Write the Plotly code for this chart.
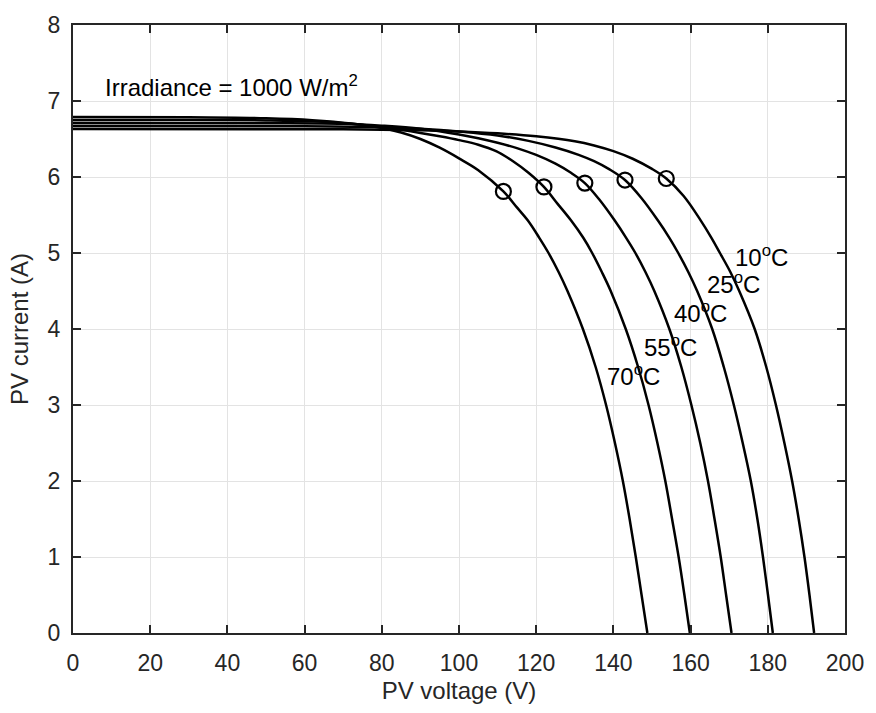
import plotly.graph_objects as go

# I-V characteristics of the PV array at 1000 W/m2 for several cell temperatures
temps = ["10", "25", "40", "55", "70"]

v_10 = [0, 70, 90, 100, 110, 120, 130, 135, 140, 145, 150, 153.7, 158.2, 162.6, 165.4, 167.6,
        170.3, 172.6, 176.6, 179.6, 182.1, 184.3, 186.3, 188.0, 189.5, 190.8, 192.0]
i_10 = [6.63, 6.627, 6.615, 6.60, 6.575, 6.535, 6.47, 6.415, 6.34, 6.24, 6.106, 5.98, 5.75, 5.43, 5.2, 5.0,
        4.75, 4.5, 4.0, 3.5, 3.0, 2.5, 2.0, 1.5, 1.0, 0.5, 0]

v_25 = [0, 60, 80, 90, 100, 110, 118, 125, 131, 135, 139, 143.0, 147.3, 151.5, 154.5, 156.8,
        159.4, 161.7, 165.6, 168.6, 171.2, 173.5, 175.6, 177.3, 178.75, 180.05, 181.3]
i_25 = [6.67, 6.667, 6.655, 6.635, 6.60, 6.547, 6.475, 6.388, 6.292, 6.208, 6.10, 5.96, 5.72, 5.43, 5.2, 5.0,
        4.75, 4.5, 4.0, 3.5, 3.0, 2.5, 2.0, 1.5, 1.0, 0.5, 0]

v_40 = [0, 50, 70, 80, 90, 100, 105, 110, 115, 120, 125, 129, 132.6, 136.4, 140.3, 143.3, 145.7,
        148.3, 150.6, 154.5, 157.6, 160.2, 162.5, 164.5, 166.2, 167.8, 169.2, 170.6]
i_40 = [6.71, 6.708, 6.70, 6.675, 6.635, 6.56, 6.51, 6.45, 6.38, 6.29, 6.175, 6.055, 5.92, 5.70, 5.43, 5.2, 5.0,
        4.75, 4.5, 4.0, 3.5, 3.0, 2.5, 2.0, 1.5, 1.0, 0.5, 0]

v_55 = [0, 30, 50, 62, 72, 80, 85, 90, 95, 100, 105, 109.6, 114, 118, 122.0, 125.5, 129.0, 132.2, 134.5,
        137.0, 139.3, 143.2, 146.4, 149.1, 151.4, 153.45, 155.2, 156.9, 158.4, 159.8]
i_55 = [6.75, 6.75, 6.745, 6.732, 6.70, 6.655, 6.62, 6.58, 6.535, 6.485, 6.425, 6.34, 6.208, 6.056, 5.87, 5.65, 5.43, 5.2, 5.0,
        4.75, 4.5, 4.0, 3.5, 3.0, 2.5, 2.0, 1.5, 1.0, 0.5, 0]

v_70 = [0, 30, 50, 62, 72, 80, 85, 90, 95, 100, 105, 111.5, 115.0, 117.8, 120.8, 123.2,
        125.8, 128.1, 132.1, 135.4, 138.1, 140.4, 142.45, 144.2, 145.8, 147.3, 148.8]
i_70 = [6.79, 6.787, 6.773, 6.748, 6.705, 6.645, 6.585, 6.50, 6.385, 6.245, 6.09, 5.81, 5.6, 5.43, 5.2, 5.0,
        4.75, 4.5, 4.0, 3.5, 3.0, 2.5, 2.0, 1.5, 1.0, 0.5, 0]

# maximum power points
mpp_v = [153.7, 143.0, 132.6, 122.0, 111.5]
mpp_i = [5.98, 5.96, 5.92, 5.87, 5.81]

# temperature label anchors (left edge, vertical centre)
label_v = [171.0, 163.8, 155.1, 147.3, 137.8]
label_i = [4.96, 4.60, 4.22, 3.78, 3.39]

curves = [(v_10, i_10), (v_25, i_25), (v_40, i_40), (v_55, i_55), (v_70, i_70)]

FONT = "Liberation Sans, Arial, sans-serif"
INK = "#262626"

fig = go.Figure()
for t, (v, i) in zip(temps, curves):
    fig.add_trace(go.Scatter(
        x=v, y=i, mode="lines", name=t + " °C",
        line=dict(color="black", width=2.5, shape="spline", smoothing=1.0),
        showlegend=False, hoverinfo="skip",
    ))

fig.add_trace(go.Scatter(
    x=mpp_v, y=mpp_i, mode="markers", showlegend=False,
    marker=dict(symbol="circle-open", size=15, color="black", line=dict(width=2.2, color="black")),
))

for t, lv, li in zip(temps, label_v, label_i):
    fig.add_annotation(
        x=lv, y=li, xref="x", yref="y", text=t + "<sup>o</sup>C",
        showarrow=False, xanchor="left", yanchor="middle",
        font=dict(family=FONT, size=24, color="black"),
    )

fig.add_annotation(
    x=7.7, y=7.2, xref="x", yref="y", text="Irradiance = 1000 W/m<sup>2</sup>",
    showarrow=False, xanchor="left", yanchor="middle",
    font=dict(family=FONT, size=24, color="black"),
)

axis_common = dict(
    showline=True, linecolor=INK, linewidth=2, mirror="ticks",
    ticks="inside", ticklen=8, tickwidth=2, tickcolor=INK,
    showgrid=True, gridcolor="#e3e3e3", gridwidth=1.3,
    zeroline=False,
    tickfont=dict(family=FONT, size=23, color=INK),
    title_font=dict(family=FONT, size=24, color=INK),
)

fig.update_xaxes(
    range=[0, 200], tickmode="array", tickvals=list(range(0, 201, 20)),
    title_text="PV voltage (V)", title_standoff=8, ticklabelstandoff=8,
    **axis_common,
)
fig.update_yaxes(
    range=[0, 8], tickmode="array", tickvals=list(range(0, 9)),
    title_text="PV current (A)", title_standoff=12, ticklabelstandoff=6,
    **axis_common,
)

fig.update_layout(
    width=876, height=713,
    margin=dict(l=73, r=24, t=17, b=80),
    paper_bgcolor="white", plot_bgcolor="white",
    font=dict(family=FONT, size=22, color=INK),
)

fig.write_html("out.html")
